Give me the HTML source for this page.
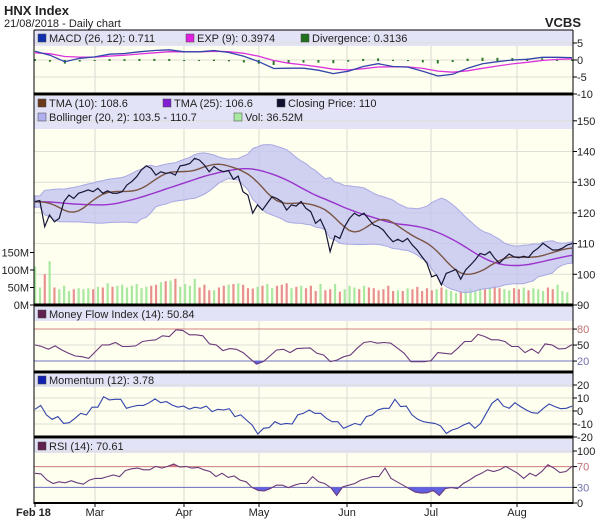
<!DOCTYPE html>
<html><head><meta charset="utf-8"><style>
body{margin:0;background:#fff;width:609px;height:526px;overflow:hidden;font-family:"Liberation Sans",sans-serif}
svg{position:absolute;left:0;top:0}
text{font-family:"Liberation Sans",sans-serif}
</style></head><body>
<svg id="chart" width="609" height="526" viewBox="0 0 609 526" xmlns="http://www.w3.org/2000/svg">
<text x="4" y="15" font-size="13" font-weight="bold" fill="#222">HNX Index</text>
<text x="4" y="27" font-size="11" fill="#222">21/08/2018 - Daily chart</text>
<text x="581" y="27" font-size="13" font-weight="bold" fill="#222" text-anchor="end">VCBS</text>
<g id="g"></g>
</svg>
<script>
const months=["Mar","Apr","May","Jun","Jul","Aug"];
const monthX=[95,184,259,347,431,517];
const priorCloses=[123,124,125,124,123,122,123,124,125,124,124,123,122,123,124,125,125,124,123,122,123,124,125,124];
const closes=[123.7,124.0,115.5,119.3,117.1,118.2,123.7,125.8,124.7,126.4,126.9,127.5,126.9,128,126.4,127.2,126.4,126.4,126.9,129.1,130.2,131.8,134,135.3,134.5,132.3,133.4,132.9,133.1,132.3,135.3,135.6,136.1,137.8,137.2,135.6,133.4,135.1,134,133.4,133.8,130.9,132,126.9,125.8,119.9,122.6,120.9,123.1,125.3,124.7,123.7,120.9,122.6,122.2,123.7,
121.5,120.4,116.6,117.9,114.4,107.4,112.5,111.7,115.5,118.2,119.9,119,119.9,117.9,116.1,115.5,114.4,112.3,110.6,111.4,110.6,111.7,109.5,107.9,105.7,103.6,99.2,99.8,96.5,100.3,100.9,101.6,98.4,101.4,103,104.7,106.8,106.3,107.4,105.2,103.6,105.2,106.6,105.7,105.4,105.9,105.5,107.4,108.5,110.1,109,107.9,107.9,108.5,109.5,110];
const volumes=[110,50,88,125,50,45,55,40,45,48,45,48,45,52,50,62,52,55,58,50,55,60,48,52,55,58,65,68,70,75,52,60,55,75,50,58,42,42,50,55,58,60,62,58,48,47,52,55,60,48,55,58,62,48,52,55,
48,55,40,60,42,45,60,38,45,55,50,45,55,50,48,42,45,55,40,42,40,48,45,52,40,48,42,45,50,45,40,35,40,45,48,42,50,45,52,55,48,45,42,48,45,50,42,48,45,40,50,45,58,40,36.5];
const macd=[2.6,1.4,-0.5,0.5,0.9,1.7,1.9,2.4,2.8,3,2.4,2.4,2.8,2.2,1.1,-0.5,-2.5,-2.4,-2.4,-3,-4,-3.3,-1.9,-1.1,-1.9,-2.1,-3.3,-4.7,-4.2,-2.4,-1.1,-0.5,0,0.2,0.8,0.8,0.7];
const mfi=[50.3,47.2,42.1,48.4,40.8,34.5,29.5,28.2,25,37.7,50.3,50.3,54.7,47.2,47.2,48.4,56.6,58.5,59.8,67.4,66.1,78.7,77.5,69.3,69.3,67.4,52.2,50.3,39.6,43.4,42.1,35.8,25,14.3,18.7,29.5,40.8,42.1,35.8,43.4,44,44.6,34.5,31.4,18.7,21.9,28.2,31.4,44,54.7,56.6,53.5,54.7,53.5,44,34.5,18.7,18.7,18.7,20.6,35.8,34.5,33.3,44,56.6,56.6,69.9,66.1,59.8,59.8,56.6,47.2,47.2,35.8,42.7,34.5,52.2,50.3,42.7,43.4,50.8];
const momentum=[1.3,4.3,-3,-6.4,-4.3,-9.5,-9,-5.6,-1.8,-3,2.9,2.9,11,8.5,9,9,2.1,3.4,4.3,4.3,6.4,9.3,6.4,7.2,4.6,2.9,3.8,1.5,2.9,2.1,3.8,-0.5,1.3,0.8,1.8,-4.3,-3,-6.9,-10.8,-17.7,-13.3,-12.8,-8.2,-10.3,-9.5,-10,-3,-1.8,0.8,-1.8,-1.8,-5.6,-8.2,-8.2,-13.3,-11.5,-9.5,-10.8,-4.3,-3,0.8,2.1,2.1,9,3.4,3.8,-3,-6.4,-8.2,-9,-9.5,-11.5,-17.2,-14.6,-13.3,-10.8,-9,-13.3,-9.5,-1.8,5.9,9.3,3.8,2.1,6.4,3.4,0.8,-1.3,-1.8,2.1,5.4,3.4,1.8,2.1,3.78];
const rsi=[57.2,55.9,44.1,37.5,40.8,38.8,42.8,38.8,36.2,44.1,47.4,47.4,50.7,53.9,50.7,62.5,65.8,67.1,63.8,63.8,70.4,67.1,70.4,75,69.1,70.4,67.1,68.4,63.8,60.5,50.7,57.2,49.3,52,44.1,40.8,29.6,24.3,23,27.6,34.2,34.2,29.6,34.2,37.5,37.5,50.7,40.8,37.5,29.6,14.5,30.9,34.2,37.5,44.1,47.4,50.7,50.7,67.1,47.4,40.8,34.2,27.6,21,19.1,19.7,24.3,14.5,27.6,29.6,27.6,37.5,44.1,52,57.2,63.8,60.5,63.8,70.4,63.8,57.2,47.4,57.2,52,60.5,73.7,67.1,58.5,60.5,70.61];

const NS="http://www.w3.org/2000/svg",G=document.getElementById('g');
const L=34,R=573,X0=35,X1=572;
function el(t,a,p){const e=document.createElementNS(NS,t);for(const k in a)e.setAttribute(k,a[k]);(p||G).appendChild(e);return e;}
function xs(n){return i=>X0+i*(X1-X0)/(n-1);}
const yMacd=v=>60-v*3.4,yPrice=v=>305-(v-90)*3.07,yVol=v=>305-v*0.35,yMfi=v=>371.7-v*0.533,yMom=v=>411-v*1.3,yRsi=v=>503-v*0.52;
function pts(arr,yf){const x=xs(arr.length);return arr.map((v,i)=>x(i).toFixed(1)+','+yf(v).toFixed(1)).join(' ');}

const panels=[["macd-panel",30,94,30,46],["price-panel",94,305,96,129],["mfi-panel",305,372,307,321],["momentum-panel",372,437,374,387],["rsi-panel",437,503,439,453]];
panels.forEach(p=>{
 const r=el('rect',{x:L,y:p[1],width:R-L,height:p[2]-p[1],fill:'#fffff0'});
 
 
 el('rect',{x:L,y:p[3],width:R-L,height:p[4]-p[3],fill:'#e3e3f7'});
});
monthX.forEach(x=>panels.forEach(p=>el('line',{x1:x,x2:x,y1:p[4],y2:p[2],stroke:'#d8d8d0','stroke-width':1})));
function axis(vals,yf,top,colors){vals.forEach((v,i)=>{const y=yf(v);
 el('line',{x1:L,x2:R,y1:y,y2:y,stroke:'#deded6','stroke-width':1});
 el('line',{x1:R,x2:R+4,y1:y,y2:y,stroke:'#000'});
 const t=el('text',{x:R+4,y:y+4,'font-size':11,fill:(colors&&colors[i])||'#222'});t.textContent=v;
 
 });}
axis([5,0,-5,-10],yMacd,30);
axis([150,140,130,120,110,100,90],yPrice,94);
axis([80,50,20],yMfi,305,['#c07070','#222','#7070b0']);
axis([20,10,0,-10,-20],yMom,372);
axis([100,70,30,0],yRsi,437,['#222','#c07070','#7070b0','#222']);
[[150,'150M'],[100,'100M'],[50,'50M'],[0,'0M']].forEach(v=>{const y=yVol(v[0]);el('line',{x1:L-4,x2:L,y1:y,y2:y,stroke:'#000'});
 const t=el('text',{x:L-5,y:y+4,'font-size':11,fill:'#222','text-anchor':'end'});t.textContent=v[1];
 
 });

// MACD
const sig=[];macd.forEach((v,i)=>sig.push(i?sig[i-1]+0.35*(v-sig[i-1]):v-0.5));
const xm=xs(macd.length);
macd.forEach((v,i)=>{const d=(v-sig[i])*0.5;const b=el('rect',{x:xm(i)-1,y:Math.min(yMacd(0),yMacd(d)),width:2,height:Math.abs(yMacd(d)-yMacd(0))+1,fill:'#2a7a2a'});
 
 });
let e=el('polyline',{points:pts(sig,yMacd),fill:'none',stroke:'#dd33dd','stroke-width':1.3});
e=el('polyline',{points:pts(macd,yMacd),fill:'none',stroke:'#3344aa','stroke-width':1.3});

const all=priorCloses.concat(closes),P=priorCloses.length;
function sma(a,n,i){let s=0,c=0;for(let k=Math.max(0,i-n+1);k<=i;k++){s+=a[k];c++;}return s/c;}
const s5=all.map((_,i)=>sma(all,5,i)),t10=all.map((_,i)=>sma(s5,6,i));
const s13=all.map((_,i)=>sma(all,13,i)),t25=all.map((_,i)=>sma(s13,13,i));
const up=[],lo=[];all.forEach((_,i)=>{const m=sma(all,20,i);let q=0,c=0;for(let k=Math.max(0,i-19);k<=i;k++){q+=(all[k]-m)**2;c++;}const sd=Math.sqrt(q/c);up.push(m+2*sd);lo.push(m-2*sd);});
const U=up.slice(P),Lo=lo.slice(P),T10=t10.slice(P),T25=t25.slice(P);
const xp=xs(closes.length);
volumes.forEach((v,i)=>{const dn=i>0&&closes[i]<closes[i-1];const b=el('rect',{x:xp(i)-1,y:yVol(v),width:2.2,height:305-yVol(v),fill:dn?'#e89090':'#a8e8a0'});
 
 });
let bp=U.map((v,i)=>xp(i).toFixed(1)+','+yPrice(v).toFixed(1)).join(' ')+' '+Lo.map((v,i)=>xp(i).toFixed(1)+','+yPrice(v).toFixed(1)).reverse().join(' ');
e=el('polygon',{points:bp,fill:'#c4c4f0','fill-opacity':0.8,stroke:'#a8a8e4','stroke-width':1});
e=el('polyline',{points:pts(T25,yPrice),fill:'none',stroke:'#9933cc','stroke-width':1.4});
e=el('polyline',{points:pts(T10,yPrice),fill:'none',stroke:'#7a5544','stroke-width':1.4});
e=el('polyline',{points:pts(closes,yPrice),fill:'none',stroke:'#151535','stroke-width':1.2});

function osc(arr,yf,hi,lo2,name){
 const y70=yf(hi),y30=yf(lo2),x=xs(arr.length);
 el('line',{x1:L,x2:R,y1:y70,y2:y70,stroke:'#d08080','stroke-width':1});
 el('line',{x1:L,x2:R,y1:y30,y2:y30,stroke:'#7070c0','stroke-width':1});
 const id=name+'c';const d=el('defs',{});
 const c1=el('clipPath',{id:id+'a'},d);el('rect',{x:L,y:0,width:R-L,height:y70},c1);
 const c2=el('clipPath',{id:id+'b'},d);el('rect',{x:L,y:y30,width:R-L,height:200},c2);
 const p=pts(arr,yf);
 el('polygon',{points:X0+','+y70+' '+p+' '+X1+','+y70,fill:'#e07080','clip-path':'url(#'+id+'a)'});
 el('polygon',{points:X0+','+y30+' '+p+' '+X1+','+y30,fill:'#6060e0','clip-path':'url(#'+id+'b)'});
 const l=el('polyline',{points:p,fill:'none',stroke:'#6a3a7a','stroke-width':1.1});
 
 
}
osc(mfi,yMfi,80,20,'mfi-line');
e=el('polyline',{points:pts(momentum,yMom),fill:'none',stroke:'#3344aa','stroke-width':1.1});
osc(rsi,yRsi,70,30,'rsi-line');

[[30,1],[94,3],[305,3],[372,3],[437,3],[503,2]].forEach(b=>el('line',{x1:L,x2:R,y1:b[0],y2:b[0],stroke:'#000','stroke-width':b[1]}));
el('line',{x1:L,x2:L,y1:30,y2:504,stroke:'#000','stroke-width':1});
el('line',{x1:R,x2:R,y1:30,y2:504,stroke:'#000','stroke-width':1});

function leg(x,y,col,txt,name){el('rect',{x:x,y:y-8,width:8,height:8,fill:col,stroke:'#444','stroke-width':0.5});
 const t=el('text',{x:x+11,y:y,'font-size':11,fill:'#222'});t.textContent=txt;
 
 }
leg(38,42,'#1030b0','MACD (26, 12): 0.711','legend-macd');
leg(186,42,'#e020e0','EXP (9): 0.3974','legend-exp');
leg(301,42,'#207020','Divergence: 0.3136','legend-divergence');
leg(38,107,'#6a3a1a','TMA (10): 108.6','legend-tma-10');
leg(163,107,'#8020d0','TMA (25): 106.6','legend-tma-25');
leg(277,107,'#101030','Closing Price: 110','legend-closing-price');
leg(38,121,'#b0b0f0','Bollinger (20, 2): 103.5 - 110.7','legend-bollinger');
leg(234,121,'#a8e8a0','Vol: 36.52M','legend-volume');
leg(38,318,'#602050','Money Flow Index (14): 50.84','legend-mfi');
leg(38,384,'#1020b0','Momentum (12): 3.78','legend-momentum');
leg(38,450,'#602050','RSI (14): 70.61','legend-rsi');

let t=el('text',{x:16,y:516,'font-size':11,'font-weight':'bold',fill:'#222'});t.textContent='Feb 18';


el('line',{x1:35,x2:35,y1:503,y2:507,stroke:'#000'});
months.forEach((m,i)=>{el('line',{x1:monthX[i],x2:monthX[i],y1:503,y2:507,stroke:'#000'});
 const tt=el('text',{x:monthX[i],y:516,'font-size':11,fill:'#222','text-anchor':'middle'});tt.textContent=m;
 
 });
</script>
</body></html>
